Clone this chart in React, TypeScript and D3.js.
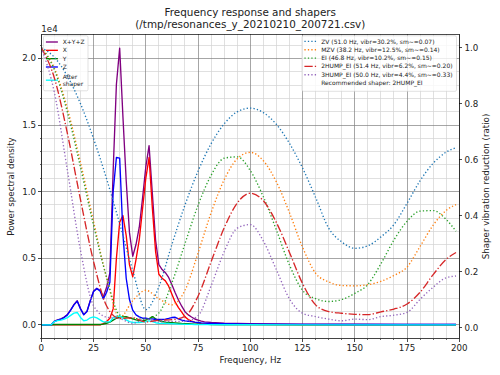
import React from 'react';
import * as d3 from 'd3';

// ---------- data ----------
const psdFreqs = [
  0, 1.5625, 3.125, 4.6875, 6.25, 7.8125, 9.375, 10.9375, 12.5, 14.0625, 15.625, 17.1875, 18.75,
  20.3125, 21.875, 23.4375, 25, 26.5625, 28.125, 29.6875, 31.25, 32.8125, 34.375, 35.9375, 37.5,
  39.0625, 40.625, 42.1875, 43.75, 45.3125, 46.875, 48.4375, 50, 51.5625, 53.125, 54.6875, 56.25,
  57.8125, 59.375, 60.9375, 62.5, 64.0625, 65.625, 67.1875, 68.75, 70.3125, 71.875, 73.4375, 75,
  76.5625, 78.125, 79.6875, 81.25, 87.5, 93.75, 100, 125, 150, 175, 198.4375,
];
// values in units of 1e4
const psdSum = [
  0, 0, 0, 0, 0.028, 0.038, 0.045, 0.058, 0.078, 0.113, 0.153, 0.181, 0.123,
  0.078, 0.103, 0.183, 0.253, 0.275, 0.258, 0.211, 0.282, 0.39, 1.155, 1.806, 2.077,
  1.56, 1.082, 0.692, 0.515, 0.603, 0.733, 0.95, 1.185, 1.345, 0.987, 0.635, 0.452,
  0.415, 0.392, 0.356, 0.301, 0.241, 0.187, 0.14, 0.099, 0.075, 0.059, 0.044, 0.035,
  0.028, 0.023, 0.021, 0.018, 0.012, 0.01, 0.008, 0.006, 0.005, 0.004, 0.004,
];
const psdX = [
  0, 0, 0, 0, 0, 0, 0, 0, 0, 0, 0, 0, 0,
  0, 0, 0, 0, 0, 0, 0.01, 0.025, 0.05, 0.12, 0.5, 0.77,
  0.82, 0.67, 0.45, 0.36, 0.49, 0.64, 0.87, 1.1, 1.256, 0.88, 0.55, 0.38,
  0.35, 0.33, 0.29, 0.23, 0.17, 0.13, 0.095, 0.06, 0.04, 0.028, 0.018, 0.012,
  0.008, 0.006, 0.005, 0.004, 0.003, 0.002, 0.002, 0.001, 0.001, 0.001, 0.001,
];
const psdY = [
  0, 0, 0, 0, 0.003, 0.003, 0.003, 0.003, 0.003, 0.003, 0.003, 0.003, 0.003,
  0.003, 0.003, 0.003, 0.003, 0.003, 0.003, 0.006, 0.012, 0.02, 0.035, 0.05, 0.055,
  0.06, 0.062, 0.052, 0.045, 0.038, 0.033, 0.03, 0.035, 0.045, 0.062, 0.045, 0.032,
  0.025, 0.02, 0.018, 0.016, 0.014, 0.012, 0.01, 0.009, 0.008, 0.007, 0.006, 0.005,
  0.005, 0.004, 0.004, 0.003, 0.002, 0.002, 0.002, 0.001, 0.001, 0.001, 0.001,
];
const psdZ = [
  0, 0, 0, 0, 0.025, 0.035, 0.042, 0.055, 0.075, 0.11, 0.15, 0.178, 0.12,
  0.075, 0.1, 0.18, 0.25, 0.272, 0.255, 0.195, 0.245, 0.32, 1.0, 1.256, 1.252,
  0.68, 0.35, 0.19, 0.11, 0.075, 0.06, 0.05, 0.05, 0.045, 0.045, 0.04, 0.04,
  0.04, 0.042, 0.048, 0.055, 0.057, 0.045, 0.035, 0.03, 0.027, 0.024, 0.02, 0.018,
  0.015, 0.013, 0.012, 0.011, 0.008, 0.007, 0.006, 0.004, 0.003, 0.003, 0.003,
];
const psdAfter = [
  0, 0, 0, 0, 0.025, 0.032, 0.036, 0.043, 0.054, 0.071, 0.088, 0.093, 0.056,
  0.031, 0.036, 0.053, 0.06, 0.052, 0.037, 0.022, 0.022, 0.023, 0.052, 0.065, 0.066,
  0.051, 0.037, 0.024, 0.018, 0.018, 0.018, 0.021, 0.024, 0.03, 0.024, 0.016, 0.012,
  0.011, 0.011, 0.01, 0.008, 0.007, 0.006, 0.005, 0.004, 0.004, 0.004, 0.003, 0.003,
  0.002, 0.002, 0.002, 0.002, 0.001, 0.001, 0.001, 0, 0, 0, 0,
];

const shaperFreqs = [
  0, 6.25, 12.5, 18.75, 25, 31.25, 37.5, 43.75, 50, 56.25, 62.5, 68.75, 75, 81.25, 87.5, 93.75,
  100, 106.25, 112.5, 118.75, 125, 131.25, 137.5, 143.75, 150, 156.25, 162.5, 168.75, 175,
  181.25, 187.5, 193.75, 198.4375,
];
const zvVals = [
  1.0, 0.966, 0.898, 0.8, 0.675, 0.531, 0.371, 0.204, 0.064, 0.146, 0.297, 0.438, 0.559, 0.657, 0.728, 0.771,
  0.784, 0.768, 0.726, 0.658, 0.57, 0.465, 0.355, 0.306, 0.283, 0.292, 0.324, 0.368, 0.444,
  0.525, 0.587, 0.627, 0.643,
];
const mzvVals = [
  1.0, 0.927, 0.782, 0.59, 0.379, 0.178, 0.035, 0.096, 0.133, 0.103, 0.081, 0.133, 0.266, 0.41, 0.528, 0.603,
  0.626, 0.596, 0.52, 0.41, 0.287, 0.194, 0.163, 0.15, 0.149, 0.153, 0.165, 0.186, 0.216,
  0.29, 0.366, 0.419, 0.439,
];
const eiVals = [
  1.0, 0.921, 0.769, 0.573, 0.365, 0.179, 0.045, 0.033, 0.03, 0.052, 0.16, 0.3, 0.437, 0.544, 0.605, 0.61,
  0.561, 0.467, 0.348, 0.223, 0.133, 0.103, 0.093, 0.1, 0.122, 0.154, 0.228, 0.313, 0.38,
  0.416, 0.418, 0.386, 0.344,
];
const twoHumpVals = [
  1.0, 0.892, 0.693, 0.457, 0.236, 0.077, 0.032, 0.035, 0.02, 0.026, 0.028, 0.04, 0.112, 0.235, 0.356, 0.445,
  0.48, 0.453, 0.375, 0.268, 0.157, 0.081, 0.057, 0.051, 0.047, 0.046, 0.056, 0.066, 0.084,
  0.126, 0.189, 0.244, 0.268,
];
const threeHumpVals = [
  1.0, 0.84, 0.561, 0.276, 0.078, 0.037, 0.032, 0.015, 0.03, 0.02, 0.022, 0.022, 0.042, 0.149, 0.271, 0.355,
  0.368, 0.309, 0.206, 0.102, 0.051, 0.039, 0.03, 0.024, 0.03, 0.028, 0.039, 0.044, 0.054,
  0.101, 0.144, 0.178, 0.184,
];

const xTicks = [0, 25, 50, 75, 100, 125, 150, 175, 200];
const leftTicks = [0, 0.5, 1.0, 1.5, 2.0];
const rightTicks = [0, 0.2, 0.4, 0.6, 0.8, 1.0];

const psdSeries = [
  { label: ['X+Y+Z'], color: 'purple', values: psdSum },
  { label: ['X'], color: 'red', values: psdX },
  { label: ['Y'], color: 'green', values: psdY },
  { label: ['Z'], color: 'blue', values: psdZ },
  { label: ['After', 'shaper'], color: 'cyan', values: psdAfter },
];
const shaperSeries = [
  { label: 'ZV (51.0 Hz, vibr=30.2%, sm~=0.07)', color: '#1f77b4', dashdot: false, values: zvVals },
  { label: 'MZV (38.2 Hz, vibr=12.5%, sm~=0.14)', color: '#ff7f0e', dashdot: false, values: mzvVals },
  { label: 'EI (46.8 Hz, vibr=10.2%, sm~=0.15)', color: '#2ca02c', dashdot: false, values: eiVals },
  { label: '2HUMP_EI (51.4 Hz, vibr=6.2%, sm~=0.20)', color: '#d62728', dashdot: true, values: twoHumpVals },
  { label: '3HUMP_EI (50.0 Hz, vibr=4.4%, sm~=0.33)', color: '#9467bd', dashdot: false, values: threeHumpVals },
];
const recommended = 'Recommended shaper: 2HUMP_EI';

// ---------- layout ----------
const W = 500, H = 375;
const L = 41.3, R = 459.3, T = 34.3, B = 338.7;
const FONT = 'DejaVu Sans, sans-serif';
const LW = 1.35;
const DOT = '1.3,2.15';
const DASHDOT = '8.3,2.1,1.3,2.1';

export default function App() {
  const x = d3.scaleLinear().domain([0, 200]).range([L, R]);
  const pmax = d3.max(psdSum) as number;
  const yL = d3.scaleLinear().domain([-0.05 * pmax, pmax * 1.05]).range([B, T]);
  const yR = d3.scaleLinear().domain([-0.04, 1.048]).range([B, T]);

  const psdLine = (vals: number[]) =>
    d3.line<number>().x((_, i) => x(psdFreqs[i])).y((d) => yL(d))(vals) || '';
  const shLine = (vals: number[]) =>
    d3.line<number>().x((_, i) => x(shaperFreqs[i])).y((d) => yR(d)).curve(d3.curveMonotoneX)(vals) || '';

  const xMinor = d3.range(0, 200.001, 6.25).filter((v) => Math.abs(v % 25) > 1e-6);
  const [d0, d1] = yL.domain();
  const yMinor = d3
    .range(-1, 30)
    .map((k) => k / 10)
    .filter((v) => v >= d0 && v <= d1 && Math.abs((v * 10) % 5) > 1e-6);

  const legL = { x: 43.5, y: 35.8, w: 44.5, h: 55 };
  const legR = { x: 302, y: 35.8, w: 154.5, h: 55.5 };
  const pitch = 8.33;

  return (
    <svg width={W} height={H} style={{ display: 'block', position: 'absolute', left: 0, top: 0 }}
      fontFamily={FONT}>
      <rect x={0} y={0} width={W} height={H} fill="white" />
      <defs>
        <clipPath id="plotclip">
          <rect x={L} y={T} width={R - L} height={B - T} />
        </clipPath>
      </defs>

      {/* grid */}
      <g shapeRendering="crispEdges">
        {xMinor.map((v) => (
          <line key={'xm' + v} x1={x(v)} x2={x(v)} y1={T} y2={B} stroke="lightgrey" strokeWidth={0.7} />
        ))}
        {yMinor.map((v) => (
          <line key={'ym' + v} x1={L} x2={R} y1={yL(v)} y2={yL(v)} stroke="lightgrey" strokeWidth={0.7} />
        ))}
        {xTicks.map((v) => (
          <line key={'xg' + v} x1={x(v)} x2={x(v)} y1={T} y2={B} stroke="grey" strokeWidth={0.7} />
        ))}
        {leftTicks.map((v) => (
          <line key={'yg' + v} x1={L} x2={R} y1={yL(v)} y2={yL(v)} stroke="grey" strokeWidth={0.7} />
        ))}
      </g>

      {/* PSD lines */}
      <g clipPath="url(#plotclip)" fill="none" strokeLinejoin="round" strokeLinecap="butt">
        {psdSeries.map((s) => (
          <path key={s.color} d={psdLine(s.values)} stroke={s.color} strokeWidth={LW} />
        ))}
      </g>

      {/* left legend */}
      <g>
        <rect x={legL.x} y={legL.y} width={legL.w} height={legL.h} rx={1.5} fill="white" fillOpacity={0.8}
          stroke="#cccccc" strokeWidth={0.6} />
        {psdSeries.map((s, i) => {
          const cy = i < 4 ? legL.y + 6.2 + i * pitch : legL.y + 6.2 + 3 * pitch + 13.2;
          return (
            <g key={'ll' + i}>
              <line x1={legL.x + 2.4} x2={legL.x + 14.4} y1={cy} y2={cy} stroke={s.color} strokeWidth={LW} />
              {s.label.length === 1 ? (
                <text x={legL.x + 19.2} y={cy + 2.1} fontSize={6} fill="#222">{s.label[0]}</text>
              ) : (
                <>
                  <text x={legL.x + 19.2} y={cy - 1.4} fontSize={6} fill="#222">{s.label[0]}</text>
                  <text x={legL.x + 19.2} y={cy + 5.6} fontSize={6} fill="#222">{s.label[1]}</text>
                </>
              )}
            </g>
          );
        })}
      </g>

      {/* shaper lines (twin axis) */}
      <g clipPath="url(#plotclip)" fill="none" strokeLinecap="butt">
        {shaperSeries.map((s) => (
          <path key={s.label} d={shLine(s.values)} stroke={s.color} strokeWidth={LW}
            strokeDasharray={s.dashdot ? DASHDOT : DOT} />
        ))}
      </g>

      {/* right legend */}
      <g>
        <rect x={legR.x} y={legR.y} width={legR.w} height={legR.h} rx={1.5} fill="white" fillOpacity={0.8}
          stroke="#cccccc" strokeWidth={0.6} />
        {shaperSeries.map((s, i) => {
          const cy = legR.y + 5.6 + i * pitch;
          return (
            <g key={'lr' + i}>
              <line x1={legR.x + 2.4} x2={legR.x + 14.4} y1={cy} y2={cy} stroke={s.color} strokeWidth={LW}
                strokeDasharray={s.dashdot ? DASHDOT : DOT} />
              <text x={legR.x + 19.2} y={cy + 2.1} fontSize={6} fill="#222">{s.label}</text>
            </g>
          );
        })}
        <text x={legR.x + 19.2} y={legR.y + 5.6 + 5 * pitch + 2.1} fontSize={6} fill="#222">{recommended}</text>
      </g>

      {/* spines */}
      <rect x={L} y={T} width={R - L} height={B - T} fill="none" stroke="black" strokeWidth={0.7}
        shapeRendering="crispEdges" />

      {/* x ticks */}
      <g shapeRendering="crispEdges">
        {xTicks.map((v) => (
          <line key={'xt' + v} x1={x(v)} x2={x(v)} y1={B} y2={B + 3} stroke="black" strokeWidth={0.7} />
        ))}
        {xMinor.map((v) => (
          <line key={'xmt' + v} x1={x(v)} x2={x(v)} y1={B} y2={B + 1.7} stroke="black" strokeWidth={0.6} />
        ))}
        {leftTicks.map((v) => (
          <line key={'lt' + v} x1={L - 3} x2={L} y1={yL(v)} y2={yL(v)} stroke="black" strokeWidth={0.7} />
        ))}
        {yMinor.map((v) => (
          <line key={'lmt' + v} x1={L - 1.7} x2={L} y1={yL(v)} y2={yL(v)} stroke="black" strokeWidth={0.6} />
        ))}
        {rightTicks.map((v) => (
          <line key={'rt' + v} x1={R} x2={R + 3} y1={yR(v)} y2={yR(v)} stroke="black" strokeWidth={0.7} />
        ))}
      </g>
      <g fontSize={8.7} fill="#222">
        {xTicks.map((v) => (
          <text key={'xl' + v} x={x(v)} y={B + 12} textAnchor="middle">{v}</text>
        ))}
        {leftTicks.map((v) => (
          <text key={'ll' + v} x={L - 5.2} y={yL(v) + 3.1} textAnchor="end">{v.toFixed(1)}</text>
        ))}
        {rightTicks.map((v) => (
          <text key={'rl' + v} x={R + 5.2} y={yR(v) + 3.1} textAnchor="start">{v.toFixed(1)}</text>
        ))}
        <text x={L} y={31.5}>1e4</text>
        <text x={(L + R) / 2} y={362.5} textAnchor="middle">Frequency, Hz</text>
        <text transform={`translate(13.5,${(T + B) / 2}) rotate(-90)`} textAnchor="middle">Power spectral density</text>
        <text transform={`translate(488.5,${(T + B) / 2}) rotate(-90)`} textAnchor="middle">Shaper vibration reduction (ratio)</text>
      </g>
      <g fontSize={10.4} fill="#222" textAnchor="middle">
        <text x={(L + R) / 2} y={16}>Frequency response and shapers</text>
        <text x={(L + R) / 2} y={27.5}>(/tmp/resonances_y_20210210_200721.csv)</text>
      </g>
    </svg>
  );
}
